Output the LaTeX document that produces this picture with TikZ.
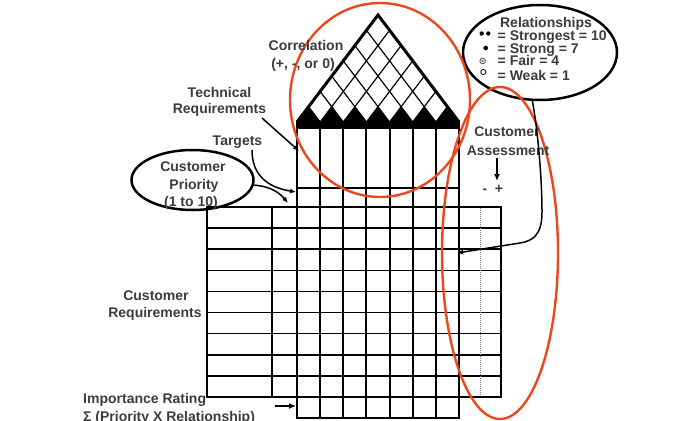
\documentclass[tikz,border=0pt]{standalone}
\usepackage{fontspec}
\setmainfont{Liberation Sans}
\usetikzlibrary{arrows.meta,calc}
\definecolor{txt}{RGB}{60,60,60}
\definecolor{redl}{RGB}{236,72,30}
\begin{document}
\begin{tikzpicture}[x=1pt,y=-1pt,
  lab/.style={font=\bfseries\fontsize{14}{16}\selectfont, text=txt, inner sep=0pt, anchor=base},
  labw/.style={lab, anchor=base west},
  thk/.style={line width=2.6pt},
  med/.style={line width=2pt},
  thn/.style={line width=1.6pt},
  lat/.style={line width=1.2pt},
  redell/.style={draw=redl, line width=2.4pt},
  blkell/.style={draw=black, line width=2.5pt},
  conn/.style={line width=1.5pt, -{Latex[length=6pt,width=5pt]}},
]
\useasboundingbox (0,0) rectangle (700,420);
\fill[white] (0,0) rectangle (700,420);

% ---- roof (lattice base at y=122, apex at y=15) ----
\foreach \k in {0,...,6}
  \fill ({297+23.1428*\k},122) -- ({297+23.1428*(\k+1)},122) -- ({297+23.1428*\k+11.5714},106.714) -- cycle;
\fill (297,121) rectangle (459,128.5);
\foreach \k in {1,...,6} {
  \draw[lat] ({297+23.1428*\k},122) -- ({378+11.5714*\k},{15+15.2857*\k});
  \draw[lat] ({297+23.1428*\k},122) -- ({297+11.5714*\k},{122-15.2857*\k});
}
\draw[line width=3pt, line join=miter] (297,122) -- (378,15) -- (459,122);

% ---- technical columns ----
\foreach \k in {1,...,6}
  \draw[med] ({297+23.1428*\k},128) -- ({297+23.1428*\k},418);
\draw[thn] (297,188) -- (459,188);

% ---- main table ----
\foreach \k in {1,...,8}
  \draw[thn] (207,{207+21.111*\k}) -- (501,{207+21.111*\k});
\draw[thn] (272,207) -- (272,397);
\draw[gray, line width=1pt, dash pattern=on 1pt off 1pt] (480,208) -- (480,396);
\draw[med] (207,207) rectangle (501,397);
\draw[thk] (297,121) -- (297,419.3);
\draw[thk] (459,121) -- (459,419.3);
\draw[thk] (297,418) -- (459,418);

% ---- ellipses ----
\draw[blkell] (192.5,180) ellipse [x radius=61pt, y radius=30pt];
\draw[blkell] (540,52.5) ellipse [x radius=77pt, y radius=47.5pt];
\draw[redell] (380,100) ellipse [x radius=90pt, y radius=97pt];
\draw[redell] (500,253) ellipse [x radius=58pt, y radius=166pt];

% ---- texts ----
\node[lab] (corr1) at (306,50.7) {Correlation};
\node[lab] (corr2) at (303,68.3) {(+, -, or 0)};
\node[lab] (tech1) at (219.5,97.3) {Technical};
\node[lab] (tech2) at (219.5,113.5) {Requirements};
\node[lab] (targ) at (237.5,145) {Targets};
\node[lab] (cp1) at (193,171.7) {Customer};
\node[lab] (cp2) at (194,189.3) {Priority};
\node[lab] (cp3) at (191,206.5) {(1 to 10)};
\node[lab] (cr1) at (156,300) {Customer};
\node[lab] (cr2) at (155,317.5) {Requirements};
\node[lab] (ca1) at (507,136.7) {Customer};
\node[lab] (ca2) at (508,155) {Assessment};
\node[lab] (minus) at (485,193) {-};
\node[lab] (plus) at (499,193) {+};
\node[labw] (ir1) at (83,403.3) {Importance Rating};
\node[labw] (ir2) at (83,421.5) {Σ (Priority X Relationship)};
\node[lab] (rel0) at (546,28) {Relationships};
\node[labw] (rel1) at (497.5,40.7) {= Strongest = 10};
\node[labw] (rel2) at (497.5,53.3) {= Strong = 7};
\node[labw] (rel3) at (497.5,65.7) {= Fair = 4};
\node[labw] (rel4) at (497.5,80.7) {= Weak = 1};

% ---- legend symbols ----
\fill (481.7,33.5) circle (2.2pt);
\fill (488.3,33.5) circle (2.2pt);
\fill (485.7,48) circle (2.3pt);
\draw[line width=0.8pt, black!70] (482.7,61) circle (2.8pt);
\fill[black!70] (482.7,61) circle (1.2pt);
\draw[line width=0.8pt] (483.3,72) circle (2.6pt);

% ---- connectors ----
\coordinate (trS) at (262,118);
\coordinate (trE) at (299,151);
\draw[conn] (trS) -- (trE);
\coordinate (tgS) at (252,150);
\coordinate (tgE) at (296,192);
\draw[conn] (tgS) .. controls (252,174) and (266,187) .. (tgE);
\coordinate (cpS) at (253,185);
\coordinate (cpE) at (288,203);
\draw[conn] (cpS) .. controls (268,186) and (278,191) .. (cpE);
\coordinate (relS) at (532,99);
\coordinate (relM) at (520,243);
\coordinate (relE) at (457,253);
\draw[conn] (relS) .. controls (538,130) and (542,180) .. (542,212)
  .. controls (542,236) and (532,241) .. (relM) -- (relE);
\coordinate (caS) at (497,158);
\coordinate (caE) at (497,181);
\draw[line width=2pt, -{Latex[length=7pt,width=6pt]}] (caS) -- (caE);
\coordinate (irS) at (275,406);
\coordinate (irE) at (296,406);
\draw[line width=1.8pt, -{Latex[length=7pt,width=6pt]}] (irS) -- (irE);
\end{tikzpicture}
\end{document}
